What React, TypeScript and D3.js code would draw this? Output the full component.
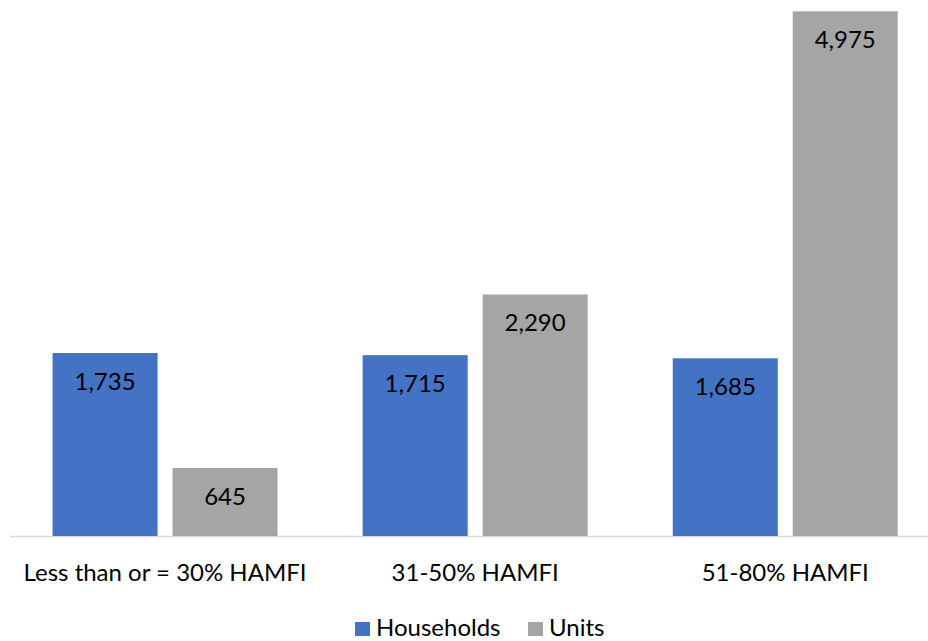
import React, { useEffect, useRef } from "react";
import * as d3 from "d3";

const categories = ["Less than or = 30% HAMFI", "31-50% HAMFI", "51-80% HAMFI"];
const seriesNames = ["Households", "Units"];
const households = [1735, 1715, 1685];
const units = [645, 2290, 4975];
const colors = ["#4472C4", "#A5A5A5"];

const W = 928;
const H = 641;
const FONT = "Lato, 'Noto Sans', sans-serif";
const FS = 24;

export default function App() {
  const ref = useRef<SVGSVGElement | null>(null);

  useEffect(() => {
    const svg = d3.select(ref.current);
    svg.selectAll("*").remove();

    const baseline = 536;
    const x0 = d3.scaleBand<string>().domain(categories).range([10, 940.3]).paddingInner(0).paddingOuter(0);
    const y = d3.scaleLinear().domain([0, 4975]).range([baseline, 11.3]);

    // bars occupy 225px of each 310px band: two 105.5px bars separated by 14px
    const step = x0.bandwidth();
    const groupW = step * 0.7255;
    const x1 = d3.scaleBand<string>().domain(seriesNames).range([0, groupW]).paddingInner(0.1245).paddingOuter(0);

    const data = categories.map((c, i) => ({ c, vals: [households[i], units[i]] }));

    const g = svg.append("g");

    g.append("line")
      .attr("x1", 10).attr("x2", W)
      .attr("y1", baseline + 0.5).attr("y2", baseline + 0.5)
      .attr("stroke", "#D9D9D9").attr("stroke-width", 1.5);

    const groups = g.selectAll("g.grp").data(data).join("g")
      .attr("transform", (d) => `translate(${(x0(d.c) as number) + (step - groupW) / 2},0)`);

    groups.selectAll("rect").data((d) => d.vals.map((v, k) => ({ v, k }))).join("rect")
      .attr("x", (d) => x1(seriesNames[d.k]) as number)
      .attr("width", x1.bandwidth())
      .attr("y", (d) => y(d.v))
      .attr("height", (d) => baseline - y(d.v))
      .attr("fill", (d) => colors[d.k]);

    groups.selectAll("text.val").data((d) => d.vals.map((v, k) => ({ v, k }))).join("text")
      .attr("class", "val")
      .attr("x", (d) => (x1(seriesNames[d.k]) as number) + x1.bandwidth() / 2)
      .attr("y", (d) => y(d.v) + 37)
      .attr("text-anchor", "middle")
      .attr("font-family", FONT)
      .attr("font-size", FS)
      .attr("fill", "#000")
      .text((d) => d3.format(",")(d.v));

    g.selectAll("text.cat").data(categories).join("text")
      .attr("class", "cat")
      .attr("x", (d) => (x0(d) as number) + step / 2)
      .attr("y", 581)
      .attr("text-anchor", "middle")
      .attr("font-family", FONT)
      .attr("font-size", FS)
      .attr("fill", "#000")
      .text((d) => d);

    // legend
    const legendX = [355, 528];
    const leg = g.selectAll("g.leg").data(seriesNames).join("g")
      .attr("transform", (_d, i) => `translate(${legendX[i]},0)`);
    leg.append("rect").attr("x", 0).attr("y", 622).attr("width", 15).attr("height", 14)
      .attr("fill", (_d, i) => colors[i]);
    leg.append("text").attr("x", 21).attr("y", 636)
      .attr("font-family", FONT).attr("font-size", FS).attr("fill", "#000")
      .text((d) => d);
  }, []);

  return (
    <svg ref={ref} width={W} height={H}
      style={{ position: "absolute", left: 0, top: 0, background: "#fff" }} />
  );
}
